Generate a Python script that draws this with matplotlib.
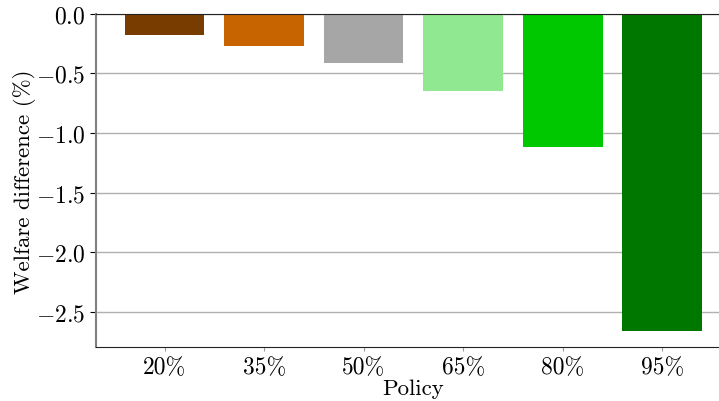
import numpy as np
import matplotlib
matplotlib.use("Agg")
import matplotlib.pyplot as plt

# Datos del gráfico
policies = ["20%", "35%", "50%", "65%", "80%", "95%"]
welfare_diff = [-0.176, -0.27, -0.41, -0.645, -1.114, -2.663]
colores = ["#783c00", "#c86400", "#a6a6a6", "#90e890", "#00c800", "#007800"]

plt.rcParams["font.family"] = "serif"
plt.rcParams["font.serif"] = ["cmr10"]
plt.rcParams["mathtext.fontset"] = "cm"
plt.rcParams["axes.formatter.use_mathtext"] = True
plt.rcParams["font.size"] = 17

fig = plt.figure(figsize=(7.19, 4.02), dpi=100)
ax = fig.add_axes([96 / 719, 0.1336, 0.883, 0.8298])

x = np.arange(len(policies))
ax.bar(x, welfare_diff, width=0.8, color=colores, zorder=2)

ax.set_xticks(x)
ax.set_xticklabels(policies)
ax.set_yticks([0.0, -0.5, -1.0, -1.5, -2.0, -2.5])
ax.yaxis.grid(True, color="#b0b0b0", linewidth=1.0, zorder=0)
ax.set_axisbelow(True)

ax.spines["left"].set_color("#808080")
ax.spines["left"].set_linewidth(1.5)
ax.spines["bottom"].set_color("#222222")
ax.spines["top"].set_color("#222222")
ax.spines["right"].set_visible(False)
ax.tick_params(axis="x", length=3, color="#999999")
ax.tick_params(axis="y", length=4)

ax.set_xlabel("Policy", fontsize=16.5, labelpad=0)
ax.set_ylabel("Welfare difference (%)", fontsize=16.5, labelpad=0)

fig.savefig("out.png", dpi=100)
